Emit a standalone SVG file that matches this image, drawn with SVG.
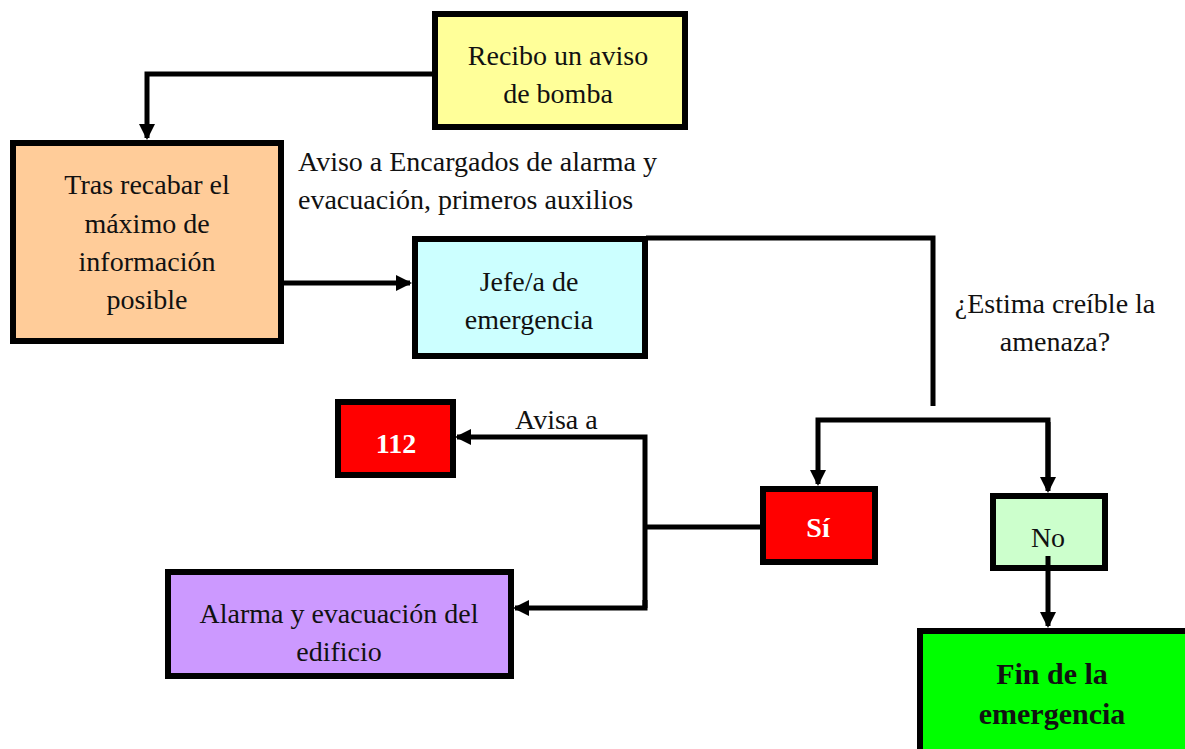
<svg xmlns="http://www.w3.org/2000/svg" width="1185" height="749" viewBox="0 0 1185 749">
<style>
.box{stroke:#000;stroke-width:6}
.t{font-family:"Liberation Serif","DejaVu Serif",serif;font-size:28px;fill:#111;text-anchor:middle}
.w{fill:#fff;font-weight:bold}
.b{font-weight:bold;font-size:30px}
.lbl{font-family:"Liberation Serif","DejaVu Serif",serif;font-size:28px;fill:#111}
.c{fill:none;stroke:#000;stroke-width:5}
</style>
<defs>
<marker id="ah" markerUnits="userSpaceOnUse" markerWidth="18" markerHeight="18" refX="14" refY="8" orient="auto">
<path d="M0,0 L16,8 L0,16 Z" fill="#000"/>
</marker>
</defs>
<rect width="1185" height="749" fill="#fff"/>
<g id="n-aviso">
<rect class="box" x="435" y="14" width="250" height="113" fill="#ffff99"/>
<text class="t" x="558" y="65">Recibo un aviso</text>
<text class="t" x="558" y="103">de bomba</text>
</g>
<g id="n-tras">
<rect class="box" x="13" y="143" width="268" height="198" fill="#ffcc99"/>
<text class="t" x="147" y="194">Tras recabar el</text>
<text class="t" x="147" y="233">máximo de</text>
<text class="t" x="147" y="271">información</text>
<text class="t" x="147" y="309">posible</text>
</g>
<text class="lbl" x="298" y="171">Aviso a Encargados de alarma y</text>
<text class="lbl" x="298" y="209">evacuación, primeros auxilios</text>
<g id="n-jefe">
<rect class="box" x="415" y="239" width="230" height="117" fill="#ccffff"/>
<text class="t" x="529" y="291">Jefe/a de</text>
<text class="t" x="529" y="329">emergencia</text>
</g>
<text class="t" x="1055" y="313">¿Estima creíble la</text>
<text class="t" x="1055" y="351">amenaza?</text>
<g id="n-si">
<rect class="box" x="763" y="489" width="112" height="73" fill="#ff0000"/>
<text class="t w" x="818" y="537">Sí</text>
</g>
<g id="n-no">
<rect class="box" x="993" y="496" width="112" height="72" fill="#ccffcc"/>
<text class="t" x="1048" y="547">No</text>
</g>
<g id="n-fin">
<rect class="box" x="920" y="631" width="270" height="125" fill="#00ff00"/>
<text class="t b" x="1052" y="684">Fin de la</text>
<text class="t b" x="1052" y="724">emergencia</text>
</g>
<g id="n-112">
<rect class="box" x="338" y="402" width="115" height="73" fill="#ff0000"/>
<text class="t w" x="396" y="453">112</text>
</g>
<text class="lbl" x="515" y="429">Avisa a</text>
<g id="n-alarma">
<rect class="box" x="168" y="572" width="343" height="104" fill="#cc99ff"/>
<text class="t" x="339" y="623">Alarma y evacuación del</text>
<text class="t" x="339" y="661">edificio</text>
</g>
<g id="connectors">
<path class="c" d="M433,74 H147 V138" marker-end="url(#ah)"/>
<path class="c" d="M283,283 H410" marker-end="url(#ah)"/>
<path class="c" d="M646,238 H933 V406"/>
<path class="c" d="M1048,488 V420 H818 V484" marker-end="url(#ah)"/>
<path class="c" d="M760,527 H645"/>
<path class="c" d="M645,608 V437 H457" marker-end="url(#ah)"/>
<path class="c" d="M645,600 V608 H515" marker-end="url(#ah)"/>
<path class="c" d="M1048,422 V491" marker-end="url(#ah)"/>
<path class="c" d="M1048,556 V626" marker-end="url(#ah)"/>
</g>
</svg>
